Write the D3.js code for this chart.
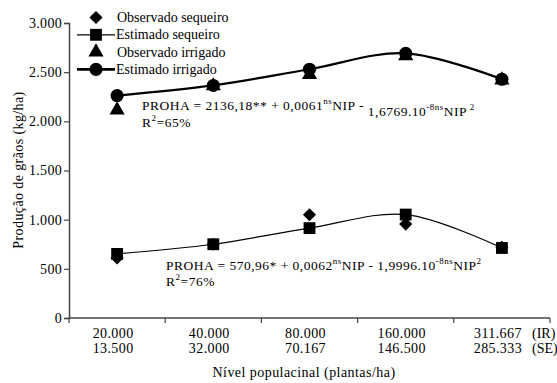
<!DOCTYPE html>
<html>
<head>
<meta charset="utf-8">
<script src="https://cdn.jsdelivr.net/npm/d3@7/dist/d3.min.js"></script>
<style>
  html, body { margin: 0; padding: 0; background: #fff; }
  svg { display: block; }
  svg text { font-family: 'Times New Roman', Times, serif; }
</style>
</head>
<body>
<svg id="chart" width="557" height="383"></svg>
<script>
// Population levels (plants/ha): irrigated (IR) and rainfed (SE)
const levelsIR = ["20.000", "40.000", "80.000", "160.000", "311.667"];
const levelsSE = ["13.500", "32.000", "70.167", "146.500", "285.333"];

// Grain yield (kg/ha)
const obsSequeiro = [610, 750, 1050, 955, 720];
const estSequeiro = [652, 750, 914, 1052, 712];
const obsIrrigado = [2115, 2360, 2475, 2665, 2420];
const estIrrigado = [2262, 2365, 2530, 2692, 2428];

const yTicks = [0, 500, 1000, 1500, 2000, 2500, 3000];

const FONT = "'Times New Roman', Times, serif";
const svg = d3.select("#chart").attr("font-family", FONT);
const axisColor = "#444";

const x = d3.scaleBand().domain(d3.range(levelsIR.length)).range([69, 550]).padding(0);
const y = d3.scaleLinear().domain([0, 3000]).range([318, 23]);
const cx = i => x(i) + x.bandwidth() / 2;

const fmt = v => v === 0 ? "0" : d3.format(",")(v).replace(/,/g, ".");

// Y axis
const yAxis = svg.append("g")
  .attr("transform", "translate(69,0)")
  .call(d3.axisLeft(y).tickValues(yTicks).tickSize(5).tickPadding(2).tickFormat(fmt))
  .attr("font-family", FONT);
yAxis.select(".domain").attr("stroke", axisColor).attr("stroke-width", 1.5);
yAxis.selectAll(".tick line").attr("stroke", axisColor).attr("stroke-width", 1.2);
yAxis.selectAll(".tick text").attr("font-size", 14).attr("fill", "#000").attr("letter-spacing", 0.3);

// X axis with tick marks on band edges
const xAxis = svg.append("g").attr("transform", "translate(0,318)");
xAxis.append("line").attr("x1", 69).attr("x2", 550).attr("y1", 0).attr("y2", 0)
  .attr("stroke", axisColor).attr("stroke-width", 1.5);
const edges = d3.range(levelsIR.length + 1).map(i => i < levelsIR.length ? x(i) : x(i - 1) + x.bandwidth());
xAxis.selectAll("line.edge").data(edges).join("line").attr("class", "edge")
  .attr("x1", d => d).attr("x2", d => d).attr("y1", 0).attr("y2", 5)
  .attr("stroke", axisColor).attr("stroke-width", 1.2);

// Category labels, two rows
svg.append("g").selectAll("text").data(levelsIR).join("text")
  .attr("x", (d, i) => cx(i) - 4).attr("y", 338).attr("letter-spacing", 0.4)
  .attr("text-anchor", "middle").attr("font-size", 14).text(d => d);
svg.append("g").selectAll("text").data(levelsSE).join("text")
  .attr("x", (d, i) => cx(i) - 4).attr("y", 353).attr("letter-spacing", 0.4)
  .attr("text-anchor", "middle").attr("font-size", 14).text(d => d);
svg.append("text").attr("x", 532).attr("y", 338).attr("font-size", 14).text("(IR)");
svg.append("text").attr("x", 532).attr("y", 353).attr("font-size", 14).text("(SE)");

// Axis titles
svg.append("text").attr("x", 304).attr("y", 377).attr("text-anchor", "middle")
  .attr("font-size", 14).attr("letter-spacing", 0.45).text("Nível populacinal (plantas/ha)");
svg.append("text").attr("transform", "translate(23,170) rotate(-90)")
  .attr("text-anchor", "middle").attr("font-size", 14).attr("letter-spacing", 0.4)
  .text("Produção de grãos (kg/ha)");

// Fitted curves
const line = d3.line().x((d, i) => cx(i)).y(d => y(d)).curve(d3.curveCatmullRom.alpha(0.5));
svg.append("path").datum(estSequeiro).attr("d", line)
  .attr("fill", "none").attr("stroke", "#000").attr("stroke-width", 1.2);
svg.append("path").datum(estIrrigado).attr("d", line)
  .attr("fill", "none").attr("stroke", "#000").attr("stroke-width", 2.2);

// Markers
const sym = (type, size) => d3.symbol().type(type).size(size)();
function markers(data, type, size) {
  svg.append("g").selectAll("path").data(data).join("path")
    .attr("transform", (d, i) => `translate(${cx(i)},${y(d)})`)
    .attr("d", sym(type, size)).attr("fill", "#000");
}
markers(obsSequeiro, d3.symbolDiamond2, 110);
markers(obsIrrigado, d3.symbolTriangle, 100);
markers(estSequeiro, d3.symbolSquare, 140);
markers(estIrrigado, d3.symbolCircle, 135);

// Legend
const legend = [
  { label: "Observado sequeiro", type: d3.symbolDiamond2, size: 110, line: 0 },
  { label: "Estimado sequeiro", type: d3.symbolSquare, size: 140, line: 1.2 },
  { label: "Observado irrigado", type: d3.symbolTriangle, size: 100, line: 0 },
  { label: "Estimado irrigado", type: d3.symbolCircle, size: 135, line: 2.6 }
];
const lg = svg.append("g").selectAll("g").data(legend).join("g")
  .attr("transform", (d, i) => `translate(96,${17.5 + i * 17.3})`);
lg.filter(d => d.line > 0).append("line")
  .attr("x1", -19).attr("x2", 19).attr("stroke", "#000").attr("stroke-width", d => d.line);
lg.append("path").attr("d", d => sym(d.type, d.size)).attr("fill", "#000");
lg.append("text").attr("x", d => d.line > 0 ? 20 : 21).attr("y", 4.5)
  .attr("font-size", 14).text(d => d.label);

// Regression equations; objects in the parts list are superscripts
function equation(xp, yp, parts) {
  const t = svg.append("text").attr("x", xp).attr("y", yp)
    .attr("font-size", 13.5).attr("letter-spacing", 0.5);
  let raised = false;
  parts.forEach(p => {
    if (typeof p === "object") {
      t.append("tspan").attr("font-size", 9).attr("dy", raised ? 0 : -6).text(p.hi);
      raised = true;
    } else {
      t.append("tspan").attr("dy", raised ? 6 : 0).attr("dx", p.gap || 0).text(p.s || p);
      raised = false;
    }
  });
}
equation(142, 110, ["PROHA = 2136,18** + 0,0061", { hi: "ns" }, "NIP -", { hi: "" }, "1,6769.10".padStart(10), { hi: "-8ns" }, "NIP", { hi: " 2" }]);
equation(142, 127, ["R", { hi: "2" }, "=65%"]);
equation(166, 270, ["PROHA = 570,96* + 0,0062", { hi: "ns" }, "NIP - 1,9996.10", { hi: "-8ns" }, "NIP", { hi: "2" }]);
equation(166, 286, ["R", { hi: "2" }, "=76%"]);
</script>
</body>
</html>
